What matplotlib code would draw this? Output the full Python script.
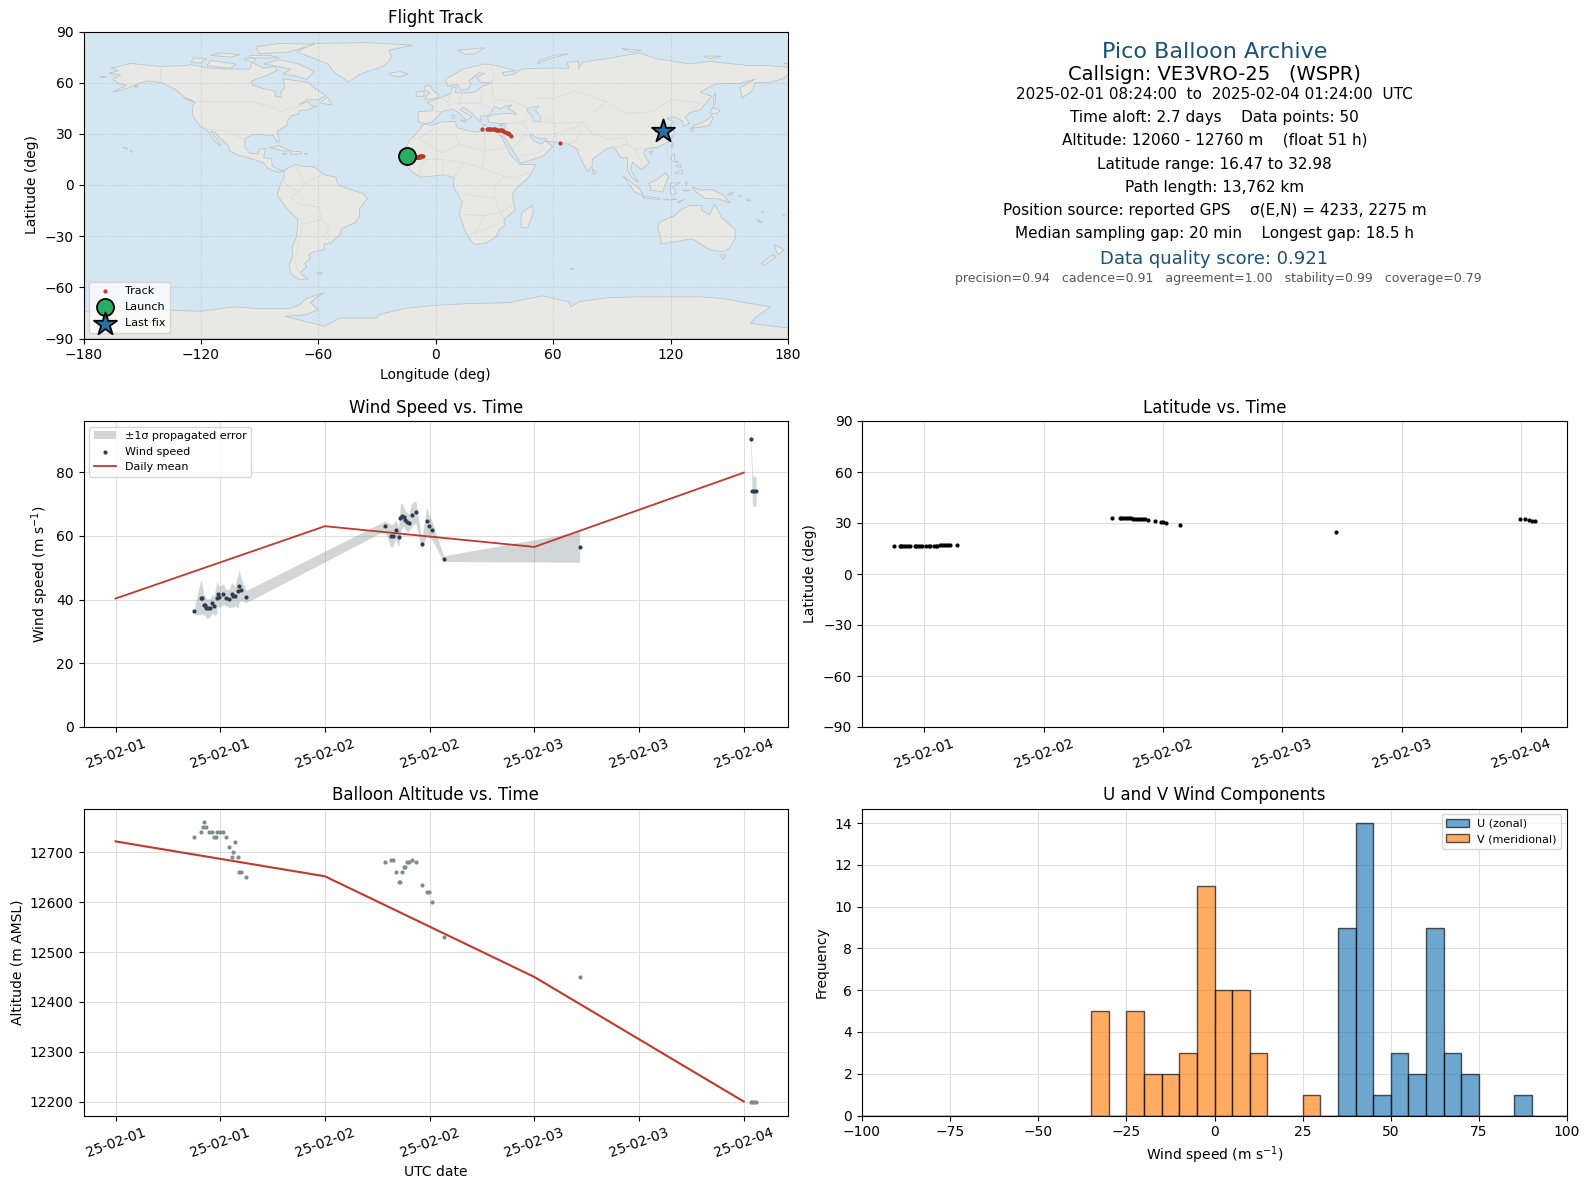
#!/usr/bin/env python3
"""Pico balloon flight summary: map, text block, wind, latitude, altitude, U/V histogram."""

from __future__ import annotations

from datetime import datetime, timedelta

import matplotlib

matplotlib.use("Agg")
import matplotlib.dates as mdates
import matplotlib.pyplot as plt

plt.rcParams["font.family"] = "DejaVu Sans"

T0 = datetime(2025, 2, 1)

# wind speed series (hours after 02-01 00:00, m/s, 1 sigma); band breaks after the lone 53.2 h point
wind_hours = [9.03, 9.75, 9.87, 10.10, 10.21, 10.40, 10.55, 10.78, 11.09, 11.31, 11.58, 11.70,
              11.85, 12.34, 12.69, 13.03, 13.33, 13.49, 13.71, 14.06, 14.17, 14.40, 14.97,
              30.86, 31.54, 31.77, 32.11, 32.46, 32.65, 32.80, 33.03, 33.22, 33.45, 33.60,
              33.94, 34.40, 35.09, 35.66, 35.89, 36.23, 37.60, 53.2, 72.8, 73.0, 73.2, 73.4]
wind_speed = [36.3, 40.6, 40.6, 38.4, 38.4, 37.2, 37.2, 37.2, 38.8, 38.1, 40.4, 41.6,
              40.8, 41.6, 40.6, 40.3, 41.6, 41.0, 41.1, 42.8, 44.1, 43.1, 40.9,
              63.1, 60.0, 60.0, 61.9, 59.6, 65.6, 66.3, 65.9, 64.8, 64.2, 64.0,
              66.6, 67.5, 57.5, 64.7, 63.1, 61.9, 52.8, 56.5, 90.5, 74.0, 74.0, 74.0]
wind_sigma = [1.0, 5.4, 5.0, 3.4, 3.2, 3.0, 3.0, 3.0, 3.0, 3.0, 5.0, 3.5,
              3.3, 3.3, 2.5, 3.0, 3.8, 3.6, 3.0, 5.5, 5.0, 3.5, 1.9,
              1.5, 3.6, 3.5, 3.0, 3.2, 4.5, 4.0, 3.0, 2.8, 3.0, 2.8,
              3.6, 3.5, 1.5, 4.5, 3.6, 3.0, 0.9, 4.8, 2.6, 4.7, 4.7, 4.7]
band_break = 42

daily_days = [0, 1, 2, 3]
daily_wind = [40.3, 63.0, 56.5, 79.8]
daily_alt = [12722, 12652, 12450, 12200]

# position fixes
pos_hours = [8.97, 9.55, 9.7, 9.8, 10.0, 10.2, 10.4, 10.6, 11.05, 11.2, 11.4, 11.55, 11.8,
             12.2, 12.45, 12.6, 12.95, 13.15, 13.3, 13.55, 13.75, 14.0, 14.2, 14.4, 14.6, 15.25,
             30.86, 31.66, 31.83, 32.0, 32.17, 32.4, 32.6, 32.8, 33.0, 33.2, 33.4, 33.6, 33.8,
             34.0, 34.2, 34.5, 35.2, 35.8, 36.0, 36.3, 37.7, 53.4, 71.9, 72.4, 72.8, 73.1, 73.4]
pos_lat = [16.47, 16.5, 16.5, 16.5, 16.5, 16.5, 16.5, 16.5, 16.5, 16.5, 16.5, 16.5, 16.5,
           16.5, 16.5, 16.5, 16.5, 16.5, 16.6, 16.8, 16.9, 17.1, 17.2, 17.2, 17.2, 17.0,
           32.98, 32.98, 32.98, 32.98, 32.95, 32.9, 32.8, 32.7, 32.6, 32.5, 32.5, 32.45, 32.4,
           32.4, 32.3, 31.8, 31.3, 30.6, 30.5, 29.9, 28.8, 24.5, 32.3, 32.2, 31.8, 31.4, 31.0]
pos_lon = [-11.0, -10.8, -10.6, -10.5, -10.3, -10.2, -10.0, -9.9, -9.6, -9.5, -9.4, -9.3, -9.1,
           -8.9, -8.8, -8.7, -8.5, -8.4, -8.3, -8.1, -8.0, -7.8, -7.6, -7.3, -7.0, -6.3,
           23.5, 26.0, 26.6, 27.2, 27.8, 28.4, 29.0, 29.6, 30.2, 30.8, 31.4, 32.0, 32.6,
           33.2, 33.8, 34.6, 35.6, 36.6, 37.0, 37.4, 38.3, 63.6, 112.5, 113.5, 115.0, 116.0, 116.3]
launch_lon, launch_lat = -14.7, 16.8
last_lon, last_lat = 116.3, 31.8

# altitude series
alt_hours = [9.03, 9.75, 9.97, 10.16, 10.40, 10.72, 11.06, 11.31, 11.54, 11.65, 11.92, 12.34,
             12.69, 13.03, 13.37, 13.49, 13.71, 14.06, 14.17, 14.40, 14.97,
             30.86, 31.54, 31.77, 32.11, 32.46, 32.65, 32.80, 33.03, 33.22, 33.45, 33.60,
             33.94, 34.40, 35.09, 35.66, 35.89, 36.23, 37.60, 53.2, 72.8, 73.0, 73.2, 73.4]
alt_m = [12730, 12740, 12750, 12760, 12750, 12740, 12740, 12730, 12730, 12740, 12740, 12740,
         12730, 12710, 12690, 12700, 12720, 12690, 12660, 12660, 12650,
         12680, 12684, 12684, 12660, 12640, 12640, 12660, 12670, 12670, 12680, 12680,
         12684, 12680, 12634, 12620, 12620, 12600, 12530, 12450, 12200, 12200, 12200, 12200]

# histogram counts, 5 m/s bins
bin_edges = list(range(-100, 105, 5))
u_bins = [35, 40, 45, 50, 55, 60, 65, 70, 85]
u_counts = [9, 14, 1, 3, 2, 9, 3, 2, 1]
v_bins = [-35, -25, -20, -15, -10, -5, 0, 5, 10, 25]
v_counts = [5, 5, 2, 2, 3, 11, 6, 6, 3, 1]

# text block
info_title = "Pico Balloon Archive"
info_call = "Callsign: VE3VRO-25   (WSPR)"
info_lines = [
    "2025-02-01 08:24:00  to  2025-02-04 01:24:00  UTC",
    "Time aloft: 2.7 days    Data points: 50",
    "Altitude: 12060 - 12760 m    (float 51 h)",
    "Latitude range: 16.47 to 32.98",
    "Path length: 13,762 km",
    "Position source: reported GPS    \u03c3(E,N) = 4233, 2275 m",
    "Median sampling gap: 20 min    Longest gap: 18.5 h",
]
info_score = "Data quality score: 0.921"
info_sub = "precision=0.94   cadence=0.91   agreement=1.00   stability=0.99   coverage=0.79"

# rough coastlines, (lon, lat)
north_america = [(-167, 65.5), (-162, 67), (-166, 68.5), (-160, 70), (-156, 71.3), (-141, 69.5), (-128, 70), (-125, 70.5), (-115, 68.5),
                 (-108, 68), (-95, 68), (-94, 72), (-88, 68.5), (-82, 69.5), (-81, 67), (-87, 64), (-94, 61),
                 (-94, 58.7), (-88, 56.5), (-82, 55), (-82, 52), (-79, 51.5), (-79, 55), (-77, 57), (-78, 62.3),
                 (-70, 61), (-65, 60), (-61, 56), (-56, 52.5), (-60, 50), (-66, 50), (-70, 47), (-65, 49),
                 (-64.5, 47), (-61, 46), (-66, 44), (-70, 43.5), (-70, 41.7), (-74, 40.5), (-76, 37), (-76, 35),
                 (-81, 31.5), (-80, 26), (-81, 25), (-83, 29), (-90, 29.5), (-94, 29.5), (-97.5, 27), (-97.5, 22),
                 (-95, 18.5), (-91, 18.5), (-90, 21), (-87, 21.5), (-88, 16), (-84, 15.5), (-83.5, 11), (-80, 9),
                 (-77.5, 8.5), (-80, 7.5), (-83, 8.3), (-86, 10), (-88, 13), (-92, 14.5), (-96, 16), (-102, 18),
                 (-105.5, 20), (-106, 23), (-109, 26), (-113, 31), (-115, 31.5), (-112, 27), (-110, 23),
                 (-112.5, 25), (-115, 29), (-117, 32.5), (-120.5, 34.5), (-124, 40), (-124.5, 46), (-123, 48.5), (-128, 51),
                 (-133, 56), (-140, 60), (-147, 61), (-152, 59.5), (-158, 56.5), (-165, 54.5), (-158, 58.5),
                 (-162, 59.5), (-165, 62), (-161, 64.5)]
south_america = [(-77.5, 8.5), (-72, 12), (-68, 11), (-62, 10.5), (-57, 6), (-51, 4.5), (-50, 0), (-44, -2.5),
                 (-37, -5), (-35, -8), (-39, -14), (-39, -18), (-41, -22), (-48, -25.5), (-49, -29), (-53.5, -34),
                 (-57, -34.5), (-57, -38), (-62, -39), (-65, -41), (-64, -43), (-67, -46), (-66, -48), (-69, -51),
                 (-68, -53), (-65, -55), (-70, -55.5), (-74, -52), (-75, -47), (-73, -42), (-73.5, -37), (-71, -30),
                 (-70.5, -20), (-76, -14), (-81, -6), (-80, -2), (-79, 2), (-77.5, 4)]
africa = [(-6, 35.8), (-2, 35), (3, 37), (10, 37.3), (11, 33.5), (15, 32.3), (20, 31), (25, 31.7), (32, 31.2),
          (32.5, 30), (34, 27), (37, 21), (38, 18), (43, 12), (51, 12), (48, 5), (41, -2), (39, -6), (40.5, -15),
          (35, -20), (35, -24), (32.5, -26), (31, -30), (26, -34), (20, -34.8), (18, -33), (15, -27), (12, -17),
          (13.5, -10), (9, -1), (9.5, 4), (5, 6), (-4, 5), (-8, 4.5), (-13, 8.5), (-17, 14.7), (-16, 20), (-13, 27),
          (-10, 30)]
eurasia = [(-9, 37), (-9, 43), (-2, 43.5), (-1, 46), (-4.5, 48.3), (2, 51), (8, 54), (8, 57), (10.5, 57.5), (10, 54),
           (14, 54), (20, 54.5), (24, 58), (29, 60), (23, 60), (21, 63), (25, 65.5), (22, 65.8), (17, 61), (18, 59),
           (16, 56), (13, 55.5), (11, 59), (6, 58), (5, 62), (14, 68), (25, 71), (31, 70), (41, 67), (34, 66), (35, 64),
           (40, 65), (44, 68), (54, 68.5), (68, 68.5), (67, 72), (73, 72.5), (73, 68), (75, 72), (87, 74), (104, 77.5),
           (113, 74), (130, 71), (140, 72.5), (160, 70), (170, 70), (180, 69), (180, 65), (178, 62.5), (170, 60),
           (163, 60), (162, 55.5), (156.5, 51), (155.5, 57), (163, 62), (155, 59.5), (143, 59.3), (135, 54.5),
           (141, 52), (135, 44), (130, 42.5), (127.5, 40), (129.5, 36), (126.5, 34.5), (126, 37.5), (122, 40),
           (118, 39), (122, 37), (119.5, 35), (122, 31), (120, 26), (113, 22), (108, 21.5), (106, 19), (109, 13),
           (105, 9), (100.5, 13.5), (99.5, 9), (103.5, 1.5), (100.5, 4), (98, 8.5), (98, 16), (94.5, 16), (91, 22.5),
           (87, 21), (80, 15), (80, 11), (77.5, 8), (73, 18), (72.5, 21), (67, 24.5), (62, 25), (57, 25.5), (56.5, 27),
           (52, 27.5), (48.5, 30), (48, 29), (50.5, 25.5), (54, 24), (56, 26), (59.8, 22.5), (55, 17), (43.5, 12.7),
           (39, 21), (35, 28), (34.9, 29.5), (34, 27.7), (32.5, 30), (32, 31.2), (34.5, 31.3), (36, 36), (32, 36),
           (27, 37), (26.5, 40), (29, 41), (35, 42), (41.5, 41.5), (37, 45), (39, 47), (35, 46), (33, 44.5), (30, 46),
           (28, 42), (26, 40.5), (23, 40.5), (23, 37), (20, 40), (19, 42), (14, 45.5), (12.5, 44), (18.5, 40), (16, 38),
           (12, 42), (9, 44.5), (3, 43), (0, 39), (-2, 36.8), (-5.5, 36)]
australia = [(114, -22), (122, -18), (126, -14), (130, -12), (136, -12), (136, -15), (140, -17.5), (142.5, -11),
             (146, -19), (153, -26), (153, -31), (150, -37.5), (146, -39), (140, -38), (136, -35), (131, -31.5),
             (124, -33), (115, -34.5), (115, -30), (113.5, -26)]
antarctica = [(-180, -90), (-180, -74.4), (-137, -73.4), (-120, -74), (-103, -71.4), (-91, -72.5), (-75, -72.5),
              (-70, -70.5), (-66, -66.5), (-57, -63.2), (-61, -66), (-64, -69), (-60, -73), (-66, -76), (-77, -77),
              (-57, -82.8), (-49, -78), (-30, -78), (-29, -76), (-16, -72.4), (0, -70.5), (17, -69.5), (37.5, -69),
              (54.5, -65), (68, -68.5), (69, -71.5), (73, -68.5), (88.6, -66), (102, -65.6), (119, -65.6), (136, -65.6),
              (146.5, -66.6), (171, -71.5), (163, -78), (161, -81.2), (180, -83.8), (180, -90)]
islands = [
    [(-71, 78), (-62.4, 83), (-35, 83.5), (-12, 82), (-24, 79), (-22.4, 75), (-26, 70), (-38.6, 65), (-44.5, 60.4), (-52, 66), (-55, 71)],
    [(-80, 73.5), (-70, 71), (-62, 66.5), (-66, 62), (-72, 64), (-78, 65), (-74, 68), (-88, 71)],
    [(-117, 70), (-105, 68.5), (-102, 71), (-115, 73)],
    [(-90, 77), (-75, 78), (-62, 82.5), (-80, 83), (-92, 81)],
    [(-125, 72), (-120, 71.5), (-117, 74), (-124, 74.5)],
    [(-95, 74.5), (-80, 74.5), (-85, 76), (-95, 76)],
    [(-115, 76), (-105, 75), (-100, 76.5), (-110, 77.5)],
    [(-98, 73.5), (-93, 72), (-92, 74), (-97, 74.5)],
    [(-59, 48), (-53, 47), (-55.5, 51.5)],
    [(-85, 22), (-80, 23), (-74, 20), (-78, 20)],
    [(-74, 19.8), (-69, 19.5), (-68.5, 18.3), (-74, 18)],
    [(-67.2, 18.5), (-65.6, 18.4), (-66, 18)],
    [(-78.4, 18.5), (-76.2, 18.3), (-77, 17.8)],
    [(-156, 20.2), (-155, 19.8), (-155.7, 19)],
    [(-160, 22), (-158, 21.6), (-157.5, 21)],
    [(-128.5, 50.7), (-125, 50), (-123.5, 48.5)],
    [(-172, 63.7), (-168, 63.5), (-170, 63)],
    [(-154, 58), (-152, 58.2), (-153.5, 57)],
    [(-24, 65.5), (-18, 66.5), (-14, 65), (-19, 63.4), (-22, 64)],
    [(-5.5, 50), (1, 51), (1.5, 53), (-2, 56), (-2, 57.7), (-5, 58.6), (-6, 56), (-3, 54), (-5, 52)],
    [(-10, 52), (-6, 52), (-6, 55), (-10, 54.5)],
    [(11, 79), (25, 80.5), (20, 77), (15, 76.7)],
    [(52, 71), (58, 74), (68, 77), (60, 76), (53, 73)],
    [(95, 80), (105, 79), (100, 78)],
    [(137, 75.5), (146, 75.5), (140, 74)],
    [(178, 71.5), (180, 71), (180, 70.8)],
    [(12.5, 38), (15.5, 38), (15, 36.7)],
    [(8.2, 41), (9.7, 41), (9.5, 39), (8.4, 39)],
    [(23.5, 35.5), (26.3, 35.2), (24.5, 34.9)],
    [(32.3, 35), (34.5, 35.6), (33.5, 34.6)],
    [(44, -16), (49.5, -12), (50, -16), (47, -25), (44, -25), (43.5, -21)],
    [(80, 9.5), (82, 7.5), (80.5, 6)],
    [(130.8, 33.5), (136, 34), (140, 35), (141.5, 39), (141, 41), (139.8, 39), (136, 36.5), (132, 35)],
    [(140, 42), (141.5, 45.5), (145.5, 43.5), (143, 42)],
    [(130, 33), (131.5, 33.5), (131, 31)],
    [(142, 46), (143, 50), (143, 54), (142, 52)],
    [(120.2, 23), (121.5, 25), (121, 22)],
    [(109, 19.5), (111, 20), (110, 18)],
    [(120, 16), (122, 18.5), (122, 15), (124, 13), (121, 14)],
    [(122, 7), (126, 9), (126, 6.5), (123.5, 7)],
    [(122.5, 11.5), (125.5, 12), (125, 10)],
    [(109, 1), (113, 3), (117, 7), (119, 5), (117.5, 1), (116, -4), (110, -3)],
    [(95.5, 5.5), (104, -2), (106, -6), (102, -4.5)],
    [(105.5, -6.5), (114.5, -7.7), (114, -8.7), (106, -7.5)],
    [(116, -8.4), (119, -8.2), (119, -8.9)],
    [(120, -8.4), (123, -8.2), (119.8, -8.9)],
    [(124, -9.8), (127, -8.4), (124, -10.2)],
    [(120, 1), (125, 1.5), (121, -1), (123, -5), (120, -5.5)],
    [(127.5, 2), (128.5, 1.5), (128, -0.7)],
    [(126, -3), (130, -3), (128, -3.7)],
    [(131, -1), (135, -3), (141, -2.6), (147, -6), (150.5, -10.5), (144, -8), (138, -8), (133, -4)],
    [(149, -5.5), (152, -4.2), (151, -6)],
    [(155, -6), (156, -7), (155, -6.7)],
    [(159, -8), (161, -9.5), (159, -9)],
    [(166.5, -15), (167.5, -16), (166.7, -16)],
    [(164, -20), (167, -22), (165, -21.5)],
    [(177.5, -17.5), (178.5, -18), (177.5, -18.2)],
    [(145, -41), (148, -41), (147, -43.5)],
    [(173, -35), (178, -38), (175, -41), (174, -39)],
    [(172, -41), (174, -42), (168, -47), (166.5, -46)],
    [(-61, -51.5), (-58, -51.5), (-59, -52.3)],
    [(69, -49), (70.5, -49), (70, -49.7)],
]
caspian = [(47, 45), (53, 46.5), (51, 44), (53, 41), (54, 37), (50, 37.3), (49, 41), (47, 43)]
borders = [
    [(-123, 49), (-95, 49), (-84, 46), (-79, 43), (-75, 45), (-67, 47)],
    [(-141, 69.5), (-141, 60)],
    [(-117, 32.5), (-106, 31.8), (-97.5, 26)],
    [(-92, 14.5), (-91, 18), (-88, 18)],
    [(-72, 12), (-67, 1), (-70, -4), (-74, -7), (-70, -11), (-60, -13), (-58, -20), (-54, -26), (-57, -30), (-53.5, -34)],
    [(-79, 2), (-70, -4)],
    [(-67, 1), (-60, 5), (-57, 6)],
    [(-70.5, -18), (-68, -23), (-70, -33), (-72, -45), (-70, -52)],
    [(-58, -20), (-65, -22), (-68, -23)],
    [(-13, 27), (-8.7, 27.5), (-2, 32), (-1, 35)],
    [(-8.7, 27.5), (3, 19), (12, 23.5), (10, 30)],
    [(25, 31.7), (25, 20), (36.5, 22)],
    [(25, 20), (24, 10), (35, 5), (41, 4), (48, 8)],
    [(12, 23.5), (15, 23), (24, 20)],
    [(-16, 16), (-5, 15), (3, 15), (14, 13), (24, 10)],
    [(-8, 4.5), (-8, 10), (-5, 15)],
    [(3, 6), (3, 15)],
    [(9.5, 4), (14, 13)],
    [(13.5, -5), (30, -8), (30, -1), (35, 5)],
    [(12, -17), (25, -18), (33, -16), (40.5, -11)],
    [(30, -8), (33, -16), (35, -20)],
    [(25, -18), (20, -28), (17, -29)],
    [(20, -28), (32, -23)],
    [(8, 54), (6, 49), (2, 51)],
    [(-2, 43.5), (3, 43)],
    [(6, 49), (7, 44)],
    [(14, 54), (12, 48), (7, 47)],
    [(12, 48), (23, 48), (28, 45)],
    [(24, 54), (23, 48)],
    [(28, 60), (30, 50), (40, 49), (47, 45)],
    [(29, 69), (30, 62), (28, 60)],
    [(36, 36), (44, 37), (48, 30)],
    [(44, 37), (48, 39)],
    [(54, 37), (61, 36), (61, 30), (62, 25)],
    [(53, 41), (61, 36), (74, 37)],
    [(50, 51), (61, 51), (71, 55), (87, 49), (97, 42), (111, 43), (120, 50), (135, 48), (131, 43)],
    [(80, 42), (87, 49)],
    [(61, 30), (72, 34), (75, 37), (80, 30), (88, 27), (97, 28), (98, 24), (92, 22)],
    [(67, 24.5), (71, 25), (74, 32)],
    [(98, 24), (102, 21), (108, 21.5)],
    [(102, 21), (105, 14), (105, 9)],
    [(39, 21), (45, 29), (48, 29)],
    [(43.5, 17), (52, 19), (55, 22)],
]


def hours_to_dates(hours: list[float]) -> list[datetime]:
    return [T0 + timedelta(hours=h) for h in hours]


def bin_weights(bins: list[int], counts: list[int]) -> tuple[list[float], list[int]]:
    # one weighted sample per non-empty bin, so hist still draws the empty bins
    return [b + 2.5 for b in bins], counts


GRID = {"color": "#dedede", "linewidth": 0.8}


def style_time_axis(ax) -> None:
    ax.xaxis.set_major_locator(mdates.HourLocator(byhour=[0, 12]))
    ax.xaxis.set_major_formatter(mdates.DateFormatter("%y-%m-%d"))
    ax.tick_params(axis="x", labelrotation=20)
    ax.grid(True, **GRID)
    ax.set_axisbelow(True)


W, H = 1590.0, 1189.0


def axes_at(fig, left, top, right, bottom):
    return fig.add_axes([left / W, 1 - bottom / H, (right - left) / W, (bottom - top) / H])


fig = plt.figure(figsize=(15.9, 11.89), dpi=100)
ax_map = axes_at(fig, 83.5, 31.5, 788, 338.5)
ax_info = axes_at(fig, 862, 31.5, 1567, 338.5)
ax_wind = axes_at(fig, 83.5, 421, 788, 727)
ax_lat = axes_at(fig, 862, 421, 1567, 727)
ax_alt = axes_at(fig, 83.5, 808.5, 788, 1115.5)
ax_hist = axes_at(fig, 862, 808.5, 1567, 1115.5)

LABEL = 10
TITLE = 12
TITLE_PAD = 6

# map
ax_map.set_facecolor("#d4e6f1")
for poly in [north_america, south_america, africa, eurasia, australia, antarctica] + islands:
    lons, lats = zip(*poly)
    ax_map.fill(lons, lats, facecolor="#e8e8e4", edgecolor="#bcc6ca", linewidth=0.6, zorder=1)
lons, lats = zip(*caspian)
ax_map.fill(lons, lats, facecolor="#d4e6f1", edgecolor="#bcc6ca", linewidth=0.5, zorder=1.1)
for line in borders:
    lons, lats = zip(*line)
    ax_map.plot(lons, lats, color="#dcdcd8", linewidth=0.6, zorder=1.2)
ax_map.grid(True, color="#9aa5aa", linewidth=0.5, linestyle=(0, (3, 2)), alpha=0.4)
ax_map.set_axisbelow(False)
for spine in ax_map.spines.values():
    spine.set_zorder(10)
ax_map.scatter(pos_lon, pos_lat, s=9, color="#c0392b", label="Track", zorder=3, linewidths=0)
ax_map.scatter([launch_lon], [launch_lat], s=150, color="#27ae60", edgecolor="black", linewidth=1.3,
               label="Launch", zorder=4)
ax_map.scatter([last_lon], [last_lat], s=300, marker="*", color="#2471a3", edgecolor="black", linewidth=1.3,
               label="Last fix", zorder=5)
ax_map.set_xlim(-180, 180)
ax_map.set_ylim(-90, 90)
ax_map.set_xticks(range(-180, 181, 60))
ax_map.set_yticks(range(-90, 91, 30))
ax_map.set_xlabel("Longitude (deg)", fontsize=LABEL)
ax_map.set_ylabel("Latitude (deg)", fontsize=LABEL)
ax_map.set_title("Flight Track", fontsize=TITLE, pad=TITLE_PAD)
ax_map.legend(loc="lower left", fontsize=8, labelspacing=0.55, handletextpad=0.8, borderpad=0.4)

# text block
ax_info.axis("off")
info_x = 0.5
ax_info.text(info_x, 0.933, info_title, ha="center", va="center", fontsize=16, color="#1a5276",
             transform=ax_info.transAxes)
ax_info.text(info_x, 0.861, info_call, ha="center", va="center", fontsize=14, transform=ax_info.transAxes)
info_y = [0.795, 0.719, 0.646, 0.568, 0.491, 0.417, 0.342]
for y, line in zip(info_y, info_lines):
    ax_info.text(info_x, y, line, ha="center", va="center", fontsize=11, transform=ax_info.transAxes)
ax_info.text(info_x, 0.260, info_score, ha="center", va="center", fontsize=13, color="#1a5276",
             transform=ax_info.transAxes)
ax_info.text(info_x + 0.0058, 0.194, info_sub, ha="center", va="center", fontsize=9, color="#555555",
             transform=ax_info.transAxes)

# wind speed
wind_t = hours_to_dates(wind_hours)
wind_low = [s - e for s, e in zip(wind_speed, wind_sigma)]
wind_high = [s + e for s, e in zip(wind_speed, wind_sigma)]
daily_t = [T0 + timedelta(days=d) for d in daily_days]
ax_wind.fill_between(wind_t[:band_break], wind_low[:band_break], wind_high[:band_break], color="#7f8c8d",
                     alpha=0.35, linewidth=0, label="\u00b11\u03c3 propagated error")
ax_wind.fill_between(wind_t[band_break:], wind_low[band_break:], wind_high[band_break:], color="#7f8c8d",
                     alpha=0.35, linewidth=0)
ax_wind.scatter(wind_t, wind_speed, s=9, color="#2c3e50", linewidths=0, label="Wind speed", zorder=3)
ax_wind.plot(daily_t, daily_wind, color="#c0392b", linewidth=1.3, label="Daily mean", zorder=2)
ax_wind.set_ylim(0, 96)
style_time_axis(ax_wind)
ax_wind.set_ylabel("Wind speed (m s$^{-1}$)", fontsize=LABEL)
ax_wind.set_title("Wind Speed vs. Time", fontsize=TITLE, pad=TITLE_PAD)
ax_wind.legend(loc="upper left", fontsize=8)

# latitude
ax_lat.scatter(hours_to_dates(pos_hours), pos_lat, s=9, color="black", linewidths=0)
ax_lat.set_ylim(-90, 90)
ax_lat.set_yticks(range(-90, 91, 30))
style_time_axis(ax_lat)
ax_lat.set_ylabel("Latitude (deg)", fontsize=LABEL)
ax_lat.set_title("Latitude vs. Time", fontsize=TITLE, pad=TITLE_PAD)

# altitude
ax_alt.scatter(hours_to_dates(alt_hours), alt_m, s=9, color="#7f8c8d", linewidths=0)
ax_alt.plot(daily_t, daily_alt, color="#c0392b", linewidth=1.5, zorder=2)
style_time_axis(ax_alt)
ax_alt.set_xlabel("UTC date", fontsize=LABEL)
ax_alt.set_ylabel("Altitude (m AMSL)", fontsize=LABEL)
ax_alt.set_title("Balloon Altitude vs. Time", fontsize=TITLE, pad=TITLE_PAD)

# U / V histogram
u_x, u_w = bin_weights(u_bins, u_counts)
v_x, v_w = bin_weights(v_bins, v_counts)
ax_hist.hist(u_x, bins=bin_edges, weights=u_w, color="#1f77b4", alpha=0.65, edgecolor="black", label="U (zonal)")
ax_hist.hist(v_x, bins=bin_edges, weights=v_w, color="#ff7f0e", alpha=0.65, edgecolor="black", label="V (meridional)")
ax_hist.set_xlim(-100, 100)
ax_hist.set_xlabel("Wind speed (m s$^{-1}$)", fontsize=LABEL)
ax_hist.set_ylabel("Frequency", fontsize=LABEL)
ax_hist.set_title("U and V Wind Components", fontsize=TITLE, pad=TITLE_PAD)
ax_hist.grid(True, **GRID)
ax_hist.set_axisbelow(True)
ax_hist.legend(loc="upper right", fontsize=8)

fig.savefig("out.png", dpi=100)
plt.close(fig)
